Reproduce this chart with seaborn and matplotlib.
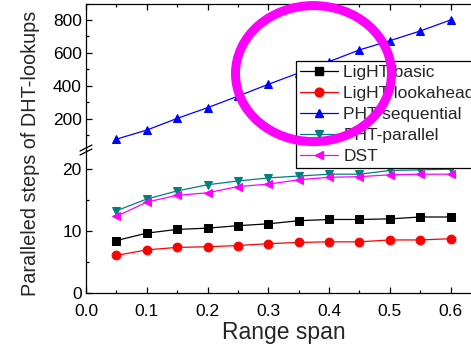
import matplotlib
matplotlib.use("Agg")
import matplotlib.pyplot as plt
from matplotlib.patches import Ellipse
from matplotlib.lines import Line2D
from matplotlib.ticker import MultipleLocator
import seaborn as sns
import pandas as pd

sns.set_theme(style="white")
plt.rcParams['font.family'] = ['Liberation Sans', 'DejaVu Sans']

range_span = [0.05, 0.10, 0.15, 0.20, 0.25, 0.30, 0.35, 0.40, 0.45, 0.50, 0.55, 0.60]
light_basic = [8.5, 9.7, 10.3, 10.5, 10.9, 11.2, 11.7, 11.9, 11.9, 12.0, 12.3, 12.3]
light_lookahead = [6.1, 7.0, 7.4, 7.5, 7.7, 8.0, 8.2, 8.3, 8.3, 8.6, 8.6, 8.8]
pht_sequential = [76, 131, 202, 267, 337, 409, 478, 547, 618, 674, 733, 800]
pht_parallel = [13.3, 15.2, 16.5, 17.5, 18.1, 18.6, 18.9, 19.2, 19.2, 19.8, 19.9, 20.0]
dst = [12.4, 14.7, 15.8, 16.2, 17.2, 17.6, 18.3, 18.7, 18.8, 19.1, 19.2, 19.2]

series_names = ["LigHT basic", "LigHT lookahead", "PHT sequential", "PHT-parallel", "DST"]
series_vals = [light_basic, light_lookahead, pht_sequential, pht_parallel, dst]
colors = ["black", "#ff0000", "#0000ff", "#008080", "#ff00ff"]
markers = ["s", "o", "^", "v", "<"]

W, H = 471, 346
fig = plt.figure(figsize=(W / 100, H / 100), dpi=100)

left = 86 / W
right = 481 / W
y_bottom = 1 - 293.3 / H
y_break = 1 - 150 / H
y_top = 1 - 3.5 / H

ax_bot = fig.add_axes([left, y_bottom, right - left, y_break - y_bottom])
ax_top = fig.add_axes([left, y_break, right - left, y_top - y_break], sharex=ax_bot)

handles = []
for name, vals, c, m in zip(series_names, series_vals, colors, markers):
    df = pd.DataFrame({"x": range_span, "y": vals})
    ax = ax_top if name == "PHT sequential" else ax_bot
    sns.lineplot(data=df, x="x", y="y", ax=ax, color=c, marker=m, markersize=6.3,
                 markeredgecolor=c, linewidth=0.9, legend=False)
    handles.append(Line2D([], [], color=c, marker=m, markersize=6.3, markeredgecolor=c,
                          linewidth=0.9, label=name))

ax_bot.set_xlim(0, 0.65)
ax_bot.set_ylim(0, 23.1)
ax_top.set_ylim(10, 900)

for ax in (ax_top, ax_bot):
    for s in ax.spines.values():
        s.set_color("black")
        s.set_linewidth(0.9)
    ax.set_xlabel("")
    ax.set_ylabel("")
    ax.tick_params(direction="in", length=4, width=0.9, colors="black", labelsize=12.5)
    ax.tick_params(which="minor", direction="in", length=2.5, width=0.9, colors="black")

ax_top.spines["bottom"].set_visible(False)
ax_bot.spines["top"].set_visible(False)

ax_bot.xaxis.set_major_locator(MultipleLocator(0.1))
ax_bot.xaxis.set_minor_locator(MultipleLocator(0.05))
ax_bot.yaxis.set_major_locator(MultipleLocator(10))
ax_bot.yaxis.set_minor_locator(MultipleLocator(5))
ax_top.yaxis.set_major_locator(MultipleLocator(200))
ax_top.yaxis.set_minor_locator(MultipleLocator(100))
ax_bot.tick_params(axis="x", which="both", bottom=True, top=False, pad=8)
ax_bot.tick_params(axis="y", which="both", left=True, right=False, pad=3)
ax_top.tick_params(axis="x", which="both", bottom=False, top=True, labelbottom=False)
ax_top.tick_params(axis="y", which="both", left=True, right=False, pad=3)
ax_top.tick_params(axis="x", which="major", length=4)
ax_bot.xaxis.set_major_formatter(matplotlib.ticker.FormatStrFormatter("%.1f"))

ax_bot.set_xlabel("Range span", fontsize=16.5, labelpad=1)
fig.text(31 / W, 1 - 153 / H, "Paralleled steps of DHT-lookups", rotation=90,
         fontsize=14.3, ha="center", va="center")

# axis break marks
bx = left
by = y_break
dx, dy = 6 / W, 3 / H
gap = 4 / H
for off in (-gap / 2, gap / 2):
    fig.add_artist(Line2D([bx - dx, bx + dx], [by + off - dy, by + off + dy],
                          color="black", linewidth=0.9))

leg = fig.legend(handles=handles, loc="upper left", bbox_to_anchor=(296 / W, 1 - 61 / H),
                 bbox_transform=fig.transFigure, borderaxespad=0, fontsize=12.5,
                 frameon=True, fancybox=False, edgecolor="black", framealpha=1,
                 handlelength=2.2, handletextpad=0.3, labelspacing=0.34, borderpad=0.22)
leg.get_frame().set_linewidth(0.9)

ell = Ellipse((313.5 / W, 1 - 73.6 / H), 156 / W, 136 / H, transform=fig.transFigure,
              fill=False, edgecolor="#ff00ff", linewidth=6.5, zorder=10)
fig.add_artist(ell)

fig.savefig("out.png", dpi=100)
